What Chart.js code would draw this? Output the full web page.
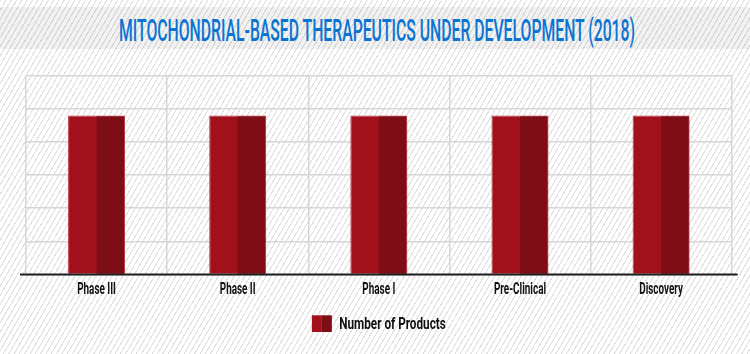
<!DOCTYPE html>
<html>
<head>
<meta charset="utf-8">
<script src="https://cdn.jsdelivr.net/npm/chart.js@4"></script>
<style>
  html, body { margin: 0; padding: 0; }
  body {
    width: 750px; height: 354px; overflow: hidden; position: relative;
    background: repeating-linear-gradient(120deg, #e0e0e0 0px, #e0e0e0 1px, #ffffff 1.2px, #ffffff 4.6px);
  }
  #band { position: absolute; left: 0; top: 7px; width: 750px; height: 42px; background: rgba(0,0,0,0.05); }
  #titleText {
    position: absolute; left: 376.5px; top: 14.5px; white-space: nowrap;
    font-family: Roboto, sans-serif; font-weight: 500; font-size: 31px;
    line-height: 31px; color: #0b74d2; transform-origin: 0 50%;
  }
  canvas { position: absolute; left: 0; top: 0; }
</style>
</head>
<body>
<div id="band"></div>
<span id="titleText">MITOCHONDRIAL-BASED THERAPEUTICS UNDER DEVELOPMENT (2018)</span>
<canvas id="c" width="750" height="354"></canvas>
<script>
const categories = ['Phase III', 'Phase II', 'Phase I', 'Pre-Clinical', 'Discovery'];
const productCounts = [4.8, 4.8, 4.8, 4.8, 4.8];
const seriesLabel = 'Number of Products';
const yMin = 0, yMax = 6, yStep = 1;

const lightRed = '#a2101c';
const darkRed = '#7e0d16';

function fitTitle() {
  const s = document.getElementById('titleText');
  const w = s.offsetWidth;
  const k = 516 / w;
  s.style.transform = 'translateX(' + (-w * k / 2) + 'px) scaleX(' + k + ')';
}
fitTitle();
if (document.fonts && document.fonts.ready) document.fonts.ready.then(fitTitle);

const twoTone = {
  id: 'twoTone',
  afterDatasetsDraw(chart) {
    const ctx = chart.ctx;
    const meta = chart.getDatasetMeta(0);
    ctx.save();
    ctx.fillStyle = darkRed;
    meta.data.forEach(el => {
      const p = el.getProps(['x', 'y', 'base', 'width'], true);
      ctx.fillRect(p.x, p.y + 1, p.width / 2 - 1, p.base - p.y - 1);
    });
    ctx.restore();
  }
};

const baseline = {
  id: 'baseline',
  afterDatasetsDraw(chart) {
    const ctx = chart.ctx, a = chart.chartArea;
    const y = chart.scales.y.getPixelForValue(0);
    ctx.save();
    ctx.strokeStyle = '#1e1e1e';
    ctx.lineWidth = 2.2;
    ctx.beginPath();
    ctx.moveTo(a.left - 6, y);
    ctx.lineTo(a.right + 6, y);
    ctx.stroke();
    ctx.restore();
  }
};

function drawCondensed(ctx, text, cx, y, font, sx, align) {
  ctx.save();
  ctx.font = font;
  ctx.textBaseline = 'alphabetic';
  ctx.textAlign = 'left';
  const w = ctx.measureText(text).width * sx;
  const x0 = align === 'center' ? cx - w / 2 : cx;
  ctx.translate(x0, y);
  ctx.scale(sx, 1);
  ctx.fillText(text, 0, 0);
  ctx.restore();
  return w;
}

const xLabels = {
  id: 'xLabels',
  afterDraw(chart) {
    const ctx = chart.ctx;
    const xs = chart.scales.x;
    chart.data.labels.forEach((lab, i) => {
      ctx.fillStyle = '#111';
      drawCondensed(ctx, lab, xs.getPixelForTick(i), 294.3, 'bold 16.5px Roboto', 0.6, 'center');
    });
  }
};

const legendPlugin = {
  id: 'condLegend',
  afterDraw(chart) {
    const ctx = chart.ctx, a = chart.chartArea;
    const label = chart.data.datasets[0].label;
    const font = 'bold 17.3px Roboto';
    const sx = 0.68;
    ctx.save();
    ctx.font = font;
    const tw = ctx.measureText(label).width * sx;
    ctx.restore();
    const boxW = 20, boxH = 16.7, gap = 7.3;
    const total = boxW + gap + tw;
    const x0 = (a.left + a.right) / 2 - total / 2;
    const yTop = 315.3;
    ctx.save();
    ctx.fillStyle = lightRed;
    ctx.fillRect(x0, yTop, boxW / 2, boxH);
    ctx.fillStyle = darkRed;
    ctx.fillRect(x0 + boxW / 2, yTop, boxW / 2, boxH);
    ctx.fillStyle = '#111';
    drawCondensed(ctx, label, x0 + boxW + gap, 328.7, font, sx, 'left');
    ctx.restore();
  }
};

new Chart(document.getElementById('c'), {
  type: 'bar',
  data: {
    labels: categories,
    datasets: [{
      label: seriesLabel,
      data: productCounts,
      backgroundColor: lightRed,
      borderColor: '#b83a44',
      borderWidth: { top: 1, left: 1, right: 1, bottom: 0 },
      borderSkipped: 'bottom',
      barPercentage: 0.404,
      categoryPercentage: 1
    }]
  },
  options: {
    responsive: false,
    animation: false,
    devicePixelRatio: 1,
    layout: { padding: { left: 26, right: 18.3, top: 75.7, bottom: 79.5 } },
    plugins: {
      legend: { display: false },
      title: { display: false },
      tooltip: { enabled: false }
    },
    scales: {
      x: {
        grid: { color: '#d6d6d6', lineWidth: 1.5, drawTicks: false, offset: true },
        border: { display: false },
        ticks: { display: false }
      },
      y: {
        min: yMin, max: yMax,
        ticks: { stepSize: yStep, display: false },
        grid: { color: '#d6d6d6', lineWidth: 1.5, drawTicks: false },
        border: { display: false }
      }
    }
  },
  plugins: [twoTone, baseline, xLabels, legendPlugin]
});
</script>
</body>
</html>
